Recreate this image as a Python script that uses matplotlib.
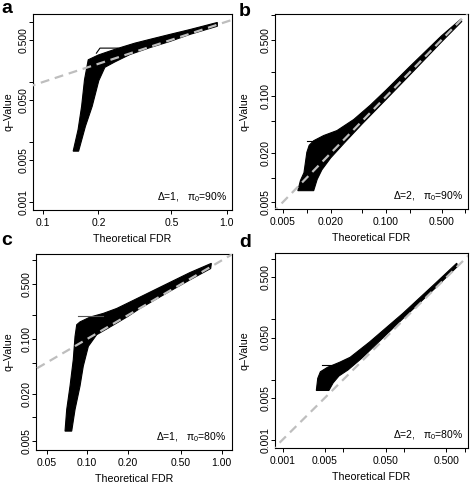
import matplotlib
matplotlib.use("Agg")
import matplotlib.pyplot as plt

plt.rcParams['font.family'] = ['Liberation Sans', 'DejaVu Sans']
plt.rcParams['mathtext.fontset'] = 'custom'
plt.rcParams['mathtext.rm'] = 'Liberation Sans'

# ---- data (outline of the bundle of simulated curves) ----
# panel a: delta=1, pi0=90%
band_a_x = [0.1457, 0.155, 0.162, 0.168, 0.176,
            0.2, 0.251, 0.316, 0.383, 0.491, 0.631, 0.89,
            0.89, 0.631, 0.491, 0.383, 0.297, 0.246, 0.217, 0.201, 0.185, 0.17, 0.156]
band_a_y = [0.0071, 0.0162, 0.0394, 0.109, 0.233,
            0.28, 0.355, 0.44, 0.51, 0.615, 0.74, 0.97,
            0.84, 0.615, 0.47, 0.372, 0.285, 0.215, 0.175, 0.105, 0.0394, 0.0184, 0.0071]
stray_a_x = [0.195, 0.204, 0.256]
stray_a_y = [0.30, 0.364, 0.364]

# panel b: delta=2, pi0=90%
band_b_x = [0.0077, 0.0083, 0.0092, 0.0100, 0.0107, 0.0122, 0.0163, 0.024, 0.039, 0.063, 0.1, 0.2, 0.5, 0.88,
            0.9, 0.5, 0.2, 0.1, 0.05, 0.03, 0.02, 0.0155, 0.0135, 0.0122]
band_b_y = [0.0069, 0.0092, 0.0115, 0.0205, 0.025, 0.0285, 0.033, 0.038, 0.052, 0.078, 0.12, 0.235, 0.56, 0.9,
            0.84, 0.47, 0.185, 0.092, 0.046, 0.027, 0.0175, 0.0125, 0.0095, 0.0069]
stray_b_x = [0.0101, 0.0134]
stray_b_y = [0.0285, 0.0285]

# panel c: delta=1, pi0=80%
band_c_x = [0.0684, 0.0704, 0.0745, 0.0788, 0.0812, 0.0836,
            0.0884, 0.105, 0.132, 0.166, 0.22, 0.37, 0.58, 0.84,
            0.83, 0.58, 0.37, 0.247, 0.197, 0.1436, 0.1177, 0.102, 0.0935, 0.0884, 0.0812, 0.0767]
band_c_y = [0.0067, 0.0126, 0.025, 0.0546, 0.108, 0.152,
            0.165, 0.19, 0.212, 0.245, 0.31, 0.48, 0.70, 0.92,
            0.79, 0.565, 0.365, 0.245, 0.19, 0.138, 0.1135, 0.0805, 0.0449, 0.025, 0.0126, 0.0067]
stray_c_x = [0.0859, 0.132]
stray_c_y = [0.198, 0.198]

# panel d: delta=2, pi0=80%
band_d_x = [0.0036, 0.0038, 0.0042, 0.0055, 0.0088, 0.013, 0.027, 0.095, 0.33, 0.74,
            0.76, 0.33, 0.095, 0.04, 0.02, 0.012, 0.0085, 0.0068, 0.0058]
band_d_y = [0.0066, 0.0105, 0.0135, 0.016, 0.0195, 0.0235, 0.042, 0.125, 0.40, 0.86,
            0.76, 0.335, 0.102, 0.044, 0.0225, 0.0145, 0.0115, 0.0088, 0.0066]
stray_d_x = [0.0044, 0.0068]
stray_d_y = [0.0175, 0.0175]

ticks_a_x = [0.1, 0.2, 0.5, 1.0]
labels_a_x = ["0.1", "0.2", "0.5", "1.0"]
ticks_a_y = [0.001, 0.005, 0.01, 0.05, 0.1, 0.5, 1.0]
labels_a_y = ["0.001", "0.005", "", "0.050", "", "0.500", ""]

ticks_b = [0.005, 0.01, 0.02, 0.05, 0.1, 0.2, 0.5, 1.0]
labels_b = ["0.005", "", "0.020", "", "0.100", "", "0.500", ""]

ticks_c_x = [0.05, 0.1, 0.2, 0.5, 1.0]
labels_c_x = ["0.05", "0.10", "0.20", "0.50", "1.00"]

ticks_d = [0.001, 0.005, 0.01, 0.05, 0.1, 0.5, 1.0]
labels_d = ["0.001", "0.005", "", "0.050", "", "0.500", ""]

diag = [1e-4, 10]

W, H = 472, 483
fig = plt.figure(figsize=(W / 100, H / 100), dpi=100)

letter_pos = {"a": (1, 13), "b": (239, 16), "c": (1, 245), "d": (239, 247)}


def panel(box, letter, bx, by, stx, sty, stc, xlim, ylim, xt, xl, yt, yl, note, ylab_x):
    l, t, r, b = box
    ax = fig.add_axes([l / W, 1 - b / H, (r - l) / W, (b - t) / H])
    ax.set_xscale('log')
    ax.set_yscale('log')
    ax.fill(bx, by, color='black', lw=0.8, zorder=2)
    ax.plot(stx, sty, color=stc, lw=0.8, zorder=2)
    ax.plot(diag, diag, color='#bebebe', lw=1.6, dashes=(4, 2.6), zorder=3)
    ax.set_xlim(xlim)
    ax.set_ylim(ylim)
    ax.set_xticks(xt, xl)
    ax.set_yticks(yt, yl)
    ax.minorticks_off()
    ax.tick_params(axis='x', length=2.6, width=0.7, pad=3.2, labelsize=7.5)
    ax.tick_params(axis='y', length=2.6, width=0.7, pad=0.8, labelsize=7.5, labelrotation=90)
    for lab in ax.get_yticklabels():
        lab.set_va('center')
    for s in ax.spines.values():
        s.set_linewidth(0.8)
    ax.set_xlabel("Theoretical FDR", fontsize=7.7)
    ax.set_ylabel("q\u2013Value", fontsize=7.7)
    ax.xaxis.set_label_coords(0.5, -29 / (b - t))
    ax.xaxis.label.set_va('center')
    ax.yaxis.set_label_coords((ylab_x - l) / (r - l), 0.5)
    ax.yaxis.label.set_va('center')
    ax.text(0.975, 0.066, note, transform=ax.transAxes, ha='right', va='center', fontsize=7.5)
    lx, ly = letter_pos[letter]
    fig.text(lx / W, 1 - ly / H, letter, fontsize=14, fontweight='bold',
             ha='left', va='baseline')
    return ax


panel((33, 14, 232, 210), "a", band_a_x, band_a_y, stray_a_x, stray_a_y, 'black',
      (0.088, 1.07), (0.00075, 1.34), ticks_a_x, labels_a_x, ticks_a_y, labels_a_y,
      "\u0394=1,   \u03c0$_0$=90%", 8)
panel((275.3, 14, 467.7, 209), "b", band_b_x, band_b_y, stray_b_x, stray_b_y, 'black',
      (0.0040, 1.07), (0.0041, 1.04), ticks_b, labels_b, ticks_b, labels_b,
      "\u0394=2,   \u03c0$_0$=90%", 244)
panel((36, 254, 231.7, 450), "c", band_c_x, band_c_y, stray_c_x, stray_c_y, '#555555',
      (0.0416, 1.19), (0.00385, 1.21), ticks_c_x, labels_c_x, ticks_b, labels_b,
      "\u0394=1,   \u03c0$_0$=80%", 8)
panel((275.3, 253, 467.7, 448), "d", band_d_x, band_d_y, stray_d_x, stray_d_y, 'black',
      (0.00076, 1.12), (0.00073, 1.27), ticks_d, labels_d, ticks_d, labels_d,
      "\u0394=2,   \u03c0$_0$=80%", 244)

fig.savefig("out.png", dpi=100)
